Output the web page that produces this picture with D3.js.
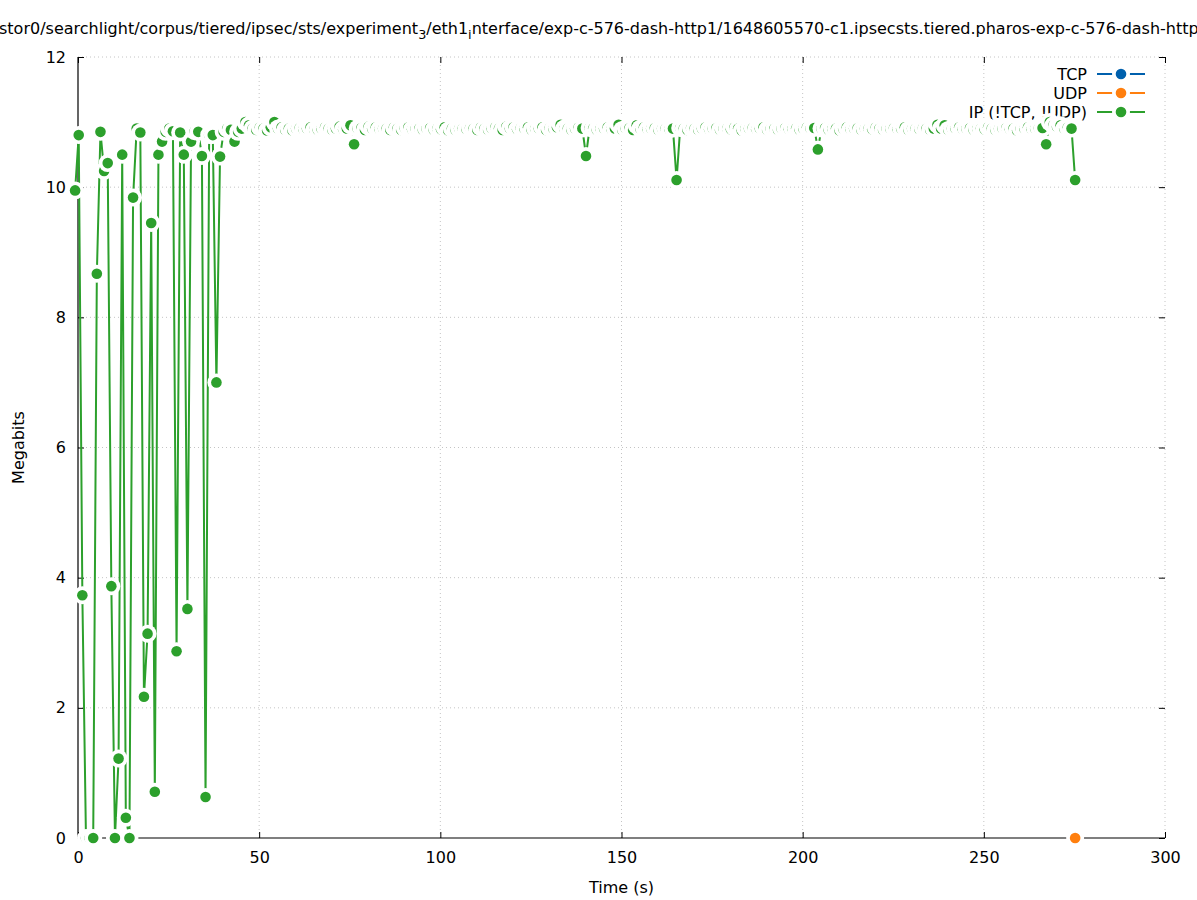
<!DOCTYPE html>
<html><head><meta charset="utf-8">
<script src="https://cdn.jsdelivr.net/npm/d3@7"></script>
<style>body{margin:0;background:#fff} svg{display:block;font-family:"DejaVu Sans",sans-serif}</style>
</head><body>
<svg id="c" width="1197" height="900"></svg>
<script>
// ---- data ----
const ipTimes = [
-0.8,0.2,1.2,2.2,3.2,4.2,5.2,6.2,7.2,8.2,
9.2,10.2,11.2,12.2,13.2,14.2,15.2,16.2,17.2,18.2,
19.2,20.2,21.2,22.2,23.2,24.2,25.2,26.2,27.2,28.2,
29.2,30.2,31.2,32.2,33.2,34.2,35.2,36.2,37.2,38.2,
39.2,40.2,41.2,42.2,43.2,44.2,45.2,46.2,47.2,48.2,
49.2,50.2,51.2,52.2,53.2,54.2,55.2,56.2,57.2,58.2,
59.2,60.2,61.2,62.2,63.2,64.2,65.2,66.2,67.2,68.2,
69.2,70.2,71.2,72.2,73.2,74.2,75.2,76.2,77.2,78.2,
79.2,80.2,81.2,82.2,83.2,84.2,85.2,86.2,87.2,88.2,
89.2,90.2,91.2,92.2,93.2,94.2,95.2,96.2,97.2,98.2,
99.2,100.2,101.2,102.2,103.2,104.2,105.2,106.2,107.2,108.2,
109.2,110.2,111.2,112.2,113.2,114.2,115.2,116.2,117.2,118.2,
119.2,120.2,121.2,122.2,123.2,124.2,125.2,126.2,127.2,128.2,
129.2,130.2,131.2,132.2,133.2,134.2,135.2,136.2,137.2,138.2,
139.2,140.2,141.2,142.2,143.2,144.2,145.2,146.2,147.2,148.2,
149.2,150.2,151.2,152.2,153.2,154.2,155.2,156.2,157.2,158.2,
159.2,160.2,161.2,162.2,163.2,164.2,165.2,166.2,167.2,168.2,
169.2,170.2,171.2,172.2,173.2,174.2,175.2,176.2,177.2,178.2,
179.2,180.2,181.2,182.2,183.2,184.2,185.2,186.2,187.2,188.2,
189.2,190.2,191.2,192.2,193.2,194.2,195.2,196.2,197.2,198.2,
199.2,200.2,201.2,202.2,203.2,204.2,205.2,206.2,207.2,208.2,
209.2,210.2,211.2,212.2,213.2,214.2,215.2,216.2,217.2,218.2,
219.2,220.2,221.2,222.2,223.2,224.2,225.2,226.2,227.2,228.2,
229.2,230.2,231.2,232.2,233.2,234.2,235.2,236.2,237.2,238.2,
239.2,240.2,241.2,242.2,243.2,244.2,245.2,246.2,247.2,248.2,
249.2,250.2,251.2,252.2,253.2,254.2,255.2,256.2,257.2,258.2,
259.2,260.2,261.2,262.2,263.2,264.2,265.2,266.2,267.2,268.2,
269.2,270.2,271.2,272.2,273.2,274.2,275.2];
const ipValues = [
9.95,10.8,3.73,0,0,0,8.67,10.85,10.25,10.37,
3.87,0,1.22,10.5,0.31,0,9.84,10.9,10.84,2.17,
3.14,9.45,0.71,10.5,10.7,10.85,10.9,10.86,2.87,10.84,
10.5,3.52,10.7,10.86,10.85,10.48,0.63,10.8,10.8,7.0,
10.47,10.85,10.9,10.88,10.7,10.85,10.9,11.0,10.95,10.9,
10.88,10.92,10.9,10.87,10.92,11.0,10.9,10.92,10.88,10.9,
10.87,10.9,10.91,10.89,10.9,10.92,10.88,10.88,10.9,10.92,
10.9,10.88,10.9,10.93,10.89,10.9,10.95,10.66,10.9,10.91,
10.88,10.93,10.9,10.92,10.89,10.9,10.9,10.88,10.92,10.9,
10.88,10.91,10.92,10.89,10.9,10.9,10.88,10.9,10.91,10.88,
10.9,10.89,10.92,10.87,10.9,10.88,10.9,10.9,10.89,10.91,
10.9,10.88,10.92,10.9,10.88,10.9,10.92,10.9,10.88,10.93,
10.9,10.92,10.89,10.91,10.9,10.92,10.88,10.9,10.9,10.92,
10.88,10.91,10.9,10.92,10.96,10.9,10.9,10.88,10.9,10.92,
10.9,10.48,10.91,10.9,10.88,10.9,10.9,10.92,10.89,10.9,
10.96,10.88,10.9,10.91,10.88,10.95,10.9,10.92,10.89,10.9,
10.91,10.88,10.9,10.9,10.89,10.9,10.11,10.91,10.9,10.88,
10.91,10.9,10.88,10.9,10.92,10.89,10.9,10.91,10.88,10.9,
10.9,10.89,10.92,10.9,10.87,10.9,10.9,10.91,10.89,10.9,
10.92,10.88,10.9,10.9,10.88,10.9,10.91,10.89,10.9,10.9,
10.88,10.9,10.92,10.9,10.91,10.58,10.9,10.91,10.88,10.9,
10.9,10.87,10.9,10.92,10.89,10.9,10.91,10.88,10.9,10.9,
10.89,10.92,10.9,10.88,10.9,10.9,10.91,10.89,10.9,10.92,
10.88,10.9,10.9,10.89,10.91,10.9,10.88,10.9,10.96,10.9,
10.95,10.88,10.9,10.9,10.92,10.89,10.9,10.91,10.88,10.9,
10.9,10.89,10.92,10.9,10.88,10.9,10.9,10.91,10.89,10.9,
10.87,10.9,10.9,10.92,10.89,10.9,10.91,10.91,10.66,11.0,
10.95,10.93,10.95,10.9,10.92,10.9,10.11];
const tcpTimes = [];
const tcpValues = [];
const udpTimes = [275.2];
const udpValues = [0];
const seriesNames = ["TCP", "UDP", "IP (!TCP, !UDP)"];
const seriesColors = ["#0060ad", "#ff7f0e", "#2ca02c"];
const xTicks = [0, 50, 100, 150, 200, 250, 300];
const yTicks = [0, 2, 4, 6, 8, 10, 12];
const xLabel = "Time (s)";
const yLabel = "Megabits";
const titleParts = [
  {t: "stor0/searchlight/corpus/tiered/ipsec/sts/experiment", sub: false},
  {t: "3", sub: true},
  {t: "/eth1", sub: false},
  {t: "i", sub: true},
  {t: "nterface/exp-c-576-dash-http1/1648605570-c1.ipsecsts.tiered.pharos-exp-c-576-dash-http", sub: false}
];

// ---- chart ----
const svg = d3.select("#c");
const FS = 16;
const x = d3.scaleLinear().domain([0, 300]).range([78, 1165]);
const y = d3.scaleLinear().domain([0, 12]).range([838, 57]);

// grid
const grid = svg.append("g").attr("stroke", "#c4c4c4").attr("stroke-width", 1).attr("stroke-dasharray", "1,3");
grid.selectAll(".gx").data(xTicks.filter(d => d !== 0)).join("line")
  .attr("x1", d => x(d)).attr("x2", d => x(d)).attr("y1", y(0)).attr("y2", y(12));
grid.selectAll(".gy").data(yTicks.filter(d => d !== 0)).join("line")
  .attr("y1", d => y(d)).attr("y2", d => y(d)).attr("x1", x(0)).attr("x2", x(300));

// axes
function styleAxis(g) {
  g.select(".domain").remove();
  g.selectAll(".tick line").attr("stroke", "#000").attr("stroke-width", 1);
  g.selectAll("text").attr("font-size", FS).attr("font-family", "DejaVu Sans").attr("fill", "#000");
}
svg.append("g").attr("transform", `translate(0,${y(0)})`)
  .call(d3.axisBottom(x).tickValues(xTicks).tickSizeInner(-6).tickSizeOuter(0).tickPadding(14).tickFormat(d3.format("d")))
  .call(styleAxis);
svg.append("g").attr("transform", `translate(${x(0)},0)`)
  .call(d3.axisLeft(y).tickValues(yTicks).tickSizeInner(-6).tickSizeOuter(0).tickPadding(12).tickFormat(d3.format("d")))
  .call(styleAxis);
svg.append("g").attr("transform", `translate(0,${y(12)})`)
  .call(d3.axisTop(x).tickValues(xTicks).tickSizeInner(-6).tickSizeOuter(0).tickFormat(""))
  .call(styleAxis);
svg.append("g").attr("transform", `translate(${x(300)},0)`)
  .call(d3.axisRight(y).tickValues(yTicks).tickSizeInner(-6).tickSizeOuter(0).tickFormat(""))
  .call(styleAxis);
// border (left + bottom)
svg.append("path").attr("d", `M${x(0)},${y(12)}V${y(0)}H${x(300)}`).attr("fill", "none").attr("stroke", "#000").attr("stroke-width", 1.2);

// labels
svg.append("text").attr("x", (x(0) + x(300)) / 2).attr("y", 893).attr("text-anchor", "middle")
  .attr("font-size", FS).text(xLabel);
svg.append("text").attr("transform", `translate(24,${(y(0) + y(12)) / 2}) rotate(-90)`).attr("text-anchor", "middle")
  .attr("font-size", FS).text(yLabel);

// title
const title = svg.append("text").attr("x", -1).attr("y", 34).attr("font-size", FS);
let shifted = false;
titleParts.forEach(p => {
  const ts = title.append("tspan").text(p.t);
  if (p.sub && !shifted) { ts.attr("dy", 5).attr("font-size", FS * 0.8); shifted = true; }
  else if (!p.sub && shifted) { ts.attr("dy", -5); shifted = false; }
});

// legend (drawn before data)
const RW = 9, RD = 5.3;
const leg = svg.append("g");
seriesNames.forEach((name, i) => {
  const cy = 74 + i * 19;
  leg.append("text").attr("x", 1087).attr("y", cy + 6).attr("text-anchor", "end").attr("font-size", FS).text(name);
  leg.append("line").attr("x1", 1097).attr("x2", 1145).attr("y1", cy).attr("y2", cy)
    .attr("stroke", seriesColors[i]).attr("stroke-width", 2);
  leg.append("circle").attr("cx", 1121).attr("cy", cy).attr("r", RW).attr("fill", "#fff");
  leg.append("circle").attr("cx", 1121).attr("cy", cy).attr("r", RD).attr("fill", seriesColors[i]);
});

// series
const seriesData = [
  {times: tcpTimes, values: tcpValues},
  {times: udpTimes, values: udpValues},
  {times: ipTimes, values: ipValues}
];
const line = d3.line().x(d => x(d[0])).y(d => y(d[1]));
seriesData.forEach((s, i) => {
  const pts = s.times.map((t, k) => [t, s.values[k]]);
  const g = svg.append("g");
  if (pts.length > 1) {
    g.append("path").attr("d", line(pts)).attr("fill", "none")
      .attr("stroke", seriesColors[i]).attr("stroke-width", 2).attr("stroke-linejoin", "round");
  }
  pts.forEach(p => {
    g.append("circle").attr("cx", x(p[0])).attr("cy", y(p[1])).attr("r", RW).attr("fill", "#fff");
    g.append("circle").attr("cx", x(p[0])).attr("cy", y(p[1])).attr("r", RD).attr("fill", seriesColors[i]);
  });
});
</script>
</body></html>
